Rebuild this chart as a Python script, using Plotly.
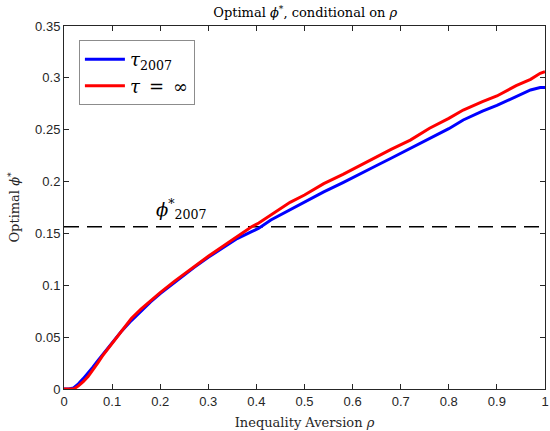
import plotly.graph_objects as go

rho = [0.0, 0.01, 0.02, 0.03, 0.04, 0.05, 0.06, 0.07, 0.08, 0.09, 0.10, 0.12, 0.14, 0.16, 0.18, 0.20,
       0.23, 0.27, 0.30, 0.335, 0.36, 0.39, 0.405, 0.43, 0.47, 0.50, 0.54, 0.58, 0.61, 0.65, 0.68,
       0.72, 0.76, 0.80, 0.83, 0.87, 0.90, 0.94, 0.97, 0.99, 1.00]
phi_tau2007 = [0.0, 0.0, 0.001, 0.005, 0.010, 0.015, 0.021, 0.027, 0.033, 0.039, 0.045, 0.056, 0.066, 0.075, 0.084, 0.092,
               0.103, 0.117, 0.127, 0.138, 0.145, 0.1517, 0.155, 0.163, 0.173, 0.180, 0.190, 0.199, 0.2064, 0.2155, 0.2225,
               0.232, 0.2417, 0.251, 0.2594, 0.268, 0.2735, 0.282, 0.2883, 0.2906, 0.2906]
phi_tauinf = [0.0, 0.0, 0.0, 0.003, 0.007, 0.012, 0.018, 0.025, 0.032, 0.038, 0.045, 0.057, 0.068, 0.077, 0.085, 0.093,
              0.104, 0.118, 0.128, 0.139, 0.147, 0.1565, 0.160, 0.168, 0.180, 0.187, 0.198, 0.207, 0.2144, 0.224, 0.2311,
              0.240, 0.2514, 0.261, 0.269, 0.277, 0.2825, 0.2925, 0.2986, 0.3044, 0.306]
phi_2007 = 0.1565

x_ticks = [0, 0.1, 0.2, 0.3, 0.4, 0.5, 0.6, 0.7, 0.8, 0.9, 1]
x_ticklabels = ["0", "0.1", "0.2", "0.3", "0.4", "0.5", "0.6", "0.7", "0.8", "0.9", "1"]
y_ticks = [0, 0.05, 0.1, 0.15, 0.2, 0.25, 0.3, 0.35]
y_ticklabels = ["0", "0.05", "0.1", "0.15", "0.2", "0.25", "0.3", "0.35"]

serif = "DejaVu Serif, Liberation Serif, serif"
sans = "Liberation Sans, Arial, sans-serif"
axcol = "#262626"

fig = go.Figure()
fig.add_trace(go.Scatter(x=[0, 1], y=[phi_2007, phi_2007], mode="lines",
                         line=dict(color="black", width=1.5, dash="15px,8px"), showlegend=False, hoverinfo="skip"))
fig.add_trace(go.Scatter(x=rho, y=phi_tau2007, mode="lines", name="<i>τ</i><sub>2007</sub>",
                         line=dict(color="#0000ff", width=3)))
fig.add_trace(go.Scatter(x=rho, y=phi_tauinf, mode="lines", name="<i>τ</i>\u2002=\u2002∞",
                         line=dict(color="#ff0000", width=3)))

fig.add_annotation(x=0.245, y=phi_2007, yshift=3, yanchor="bottom", showarrow=False,
                   text="<i>ϕ</i><sup>*</sup><sub>2007</sub>", font=dict(family=serif, size=18, color="black"))

axis_common = dict(showline=True, linecolor=axcol, linewidth=1, mirror="ticks", ticks="inside",
                   ticklen=5, tickcolor=axcol, showgrid=False, zeroline=False,
                   ticklabeloverflow="allow",
                   tickfont=dict(family=sans, size=13, color=axcol))
fig.update_xaxes(range=[0, 1], tickvals=x_ticks, ticktext=x_ticklabels,
                 title=dict(text="Inequality Aversion <i>ρ</i>", font=dict(family=serif, size=13, color=axcol), standoff=10),
                 **axis_common)
fig.update_yaxes(range=[0, 0.35], tickvals=y_ticks, ticktext=y_ticklabels,
                 title=dict(text="Optimal <i>ϕ</i><sup>*</sup>", font=dict(family=serif, size=13, color=axcol), standoff=12),
                 **axis_common)

fig.update_layout(
    width=550, height=431,
    margin=dict(l=64, r=1, t=26, b=42),
    paper_bgcolor="white", plot_bgcolor="white",
    title=dict(text="Optimal <i>ϕ</i><sup>*</sup>, conditional on <i>ρ</i>", x=0.555, xanchor="center",
               y=0.97, yanchor="middle", font=dict(family=serif, size=13, color="black")),
    legend=dict(x=0.031, y=0.961, xanchor="left", yanchor="top", bgcolor="white",
                bordercolor="#8c8c8c", borderwidth=1, font=dict(family=serif, size=18, color="black"),
                tracegroupgap=0, itemwidth=40),
    showlegend=True,
)

fig.write_html("out.html")
